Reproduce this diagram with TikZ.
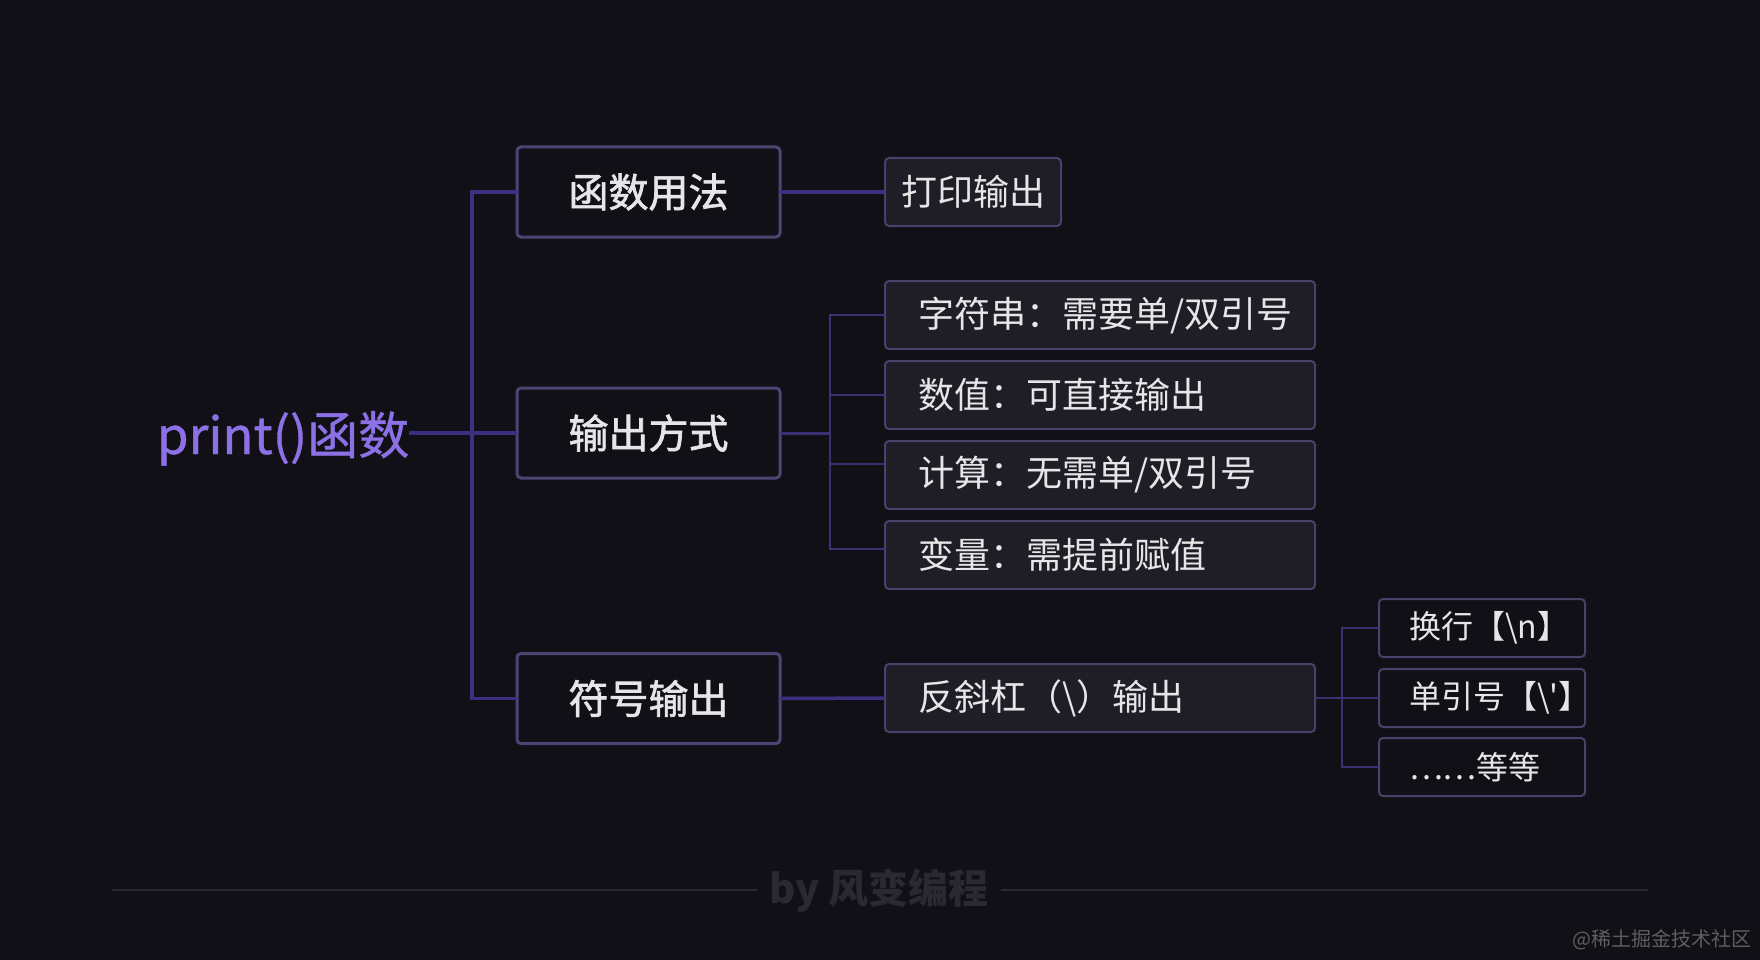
\documentclass[tikz,border=0pt]{standalone}
\usepackage{fontspec}
\setmainfont{Noto Sans CJK SC}
\newfontfamily\plaincjk{Noto Sans CJK SC}
\newfontfamily\medcjk[FakeBold=1.6]{Noto Sans CJK SC}
\newfontfamily\rootcjk[FakeBold=0.8]{Noto Sans CJK SC}
\definecolor{bg}{HTML}{111016}
\definecolor{txt}{HTML}{E6E6E8}
\definecolor{rootc}{HTML}{8C70E6}
\definecolor{borderA}{HTML}{4C4574}
\definecolor{borderB}{HTML}{48426B}
\definecolor{fillB}{HTML}{1F1E26}
\definecolor{lineA}{HTML}{3B3080}
\definecolor{lineB}{HTML}{3A3172}
\definecolor{botc}{HTML}{2A2930}
\definecolor{wmc}{HTML}{5D5D62}
\begin{document}
\begin{tikzpicture}[x=1pt,y=-1pt,
  rootnode/.style={anchor=base west, inner sep=0pt, outer sep=0pt, text=rootc, font=\fontsize{51}{60}\rootcjk},
  lvone/.style={draw=borderA, line width=3pt, fill=bg, rounded corners=4pt, minimum width=263pt, minimum height=90pt, inner sep=0pt, outer sep=0pt, text=txt, font=\fontsize{40}{46}\medcjk},
  lvtwo/.style={draw=borderB, line width=2pt, fill=fillB, rounded corners=4pt, minimum height=68pt, inner xsep=33pt, inner ysep=0pt, outer sep=0pt, text=txt, font=\fontsize{36}{42}\selectfont},
  lvthree/.style={draw=borderB, line width=2pt, fill=bg, rounded corners=4pt, minimum height=58pt, inner xsep=30pt, inner ysep=0pt, outer sep=0pt, text=txt, font=\fontsize{32}{38}\plaincjk},
  conn/.style={draw=lineA, line width=3.5pt},
  connmid/.style={draw=lineB, line width=3pt},
  connthin/.style={draw=lineB, line width=2pt},
  botline/.style={draw=botc, line width=2pt}]
\fill[bg] (0,0) rectangle (1760,960);
\useasboundingbox (0,0) rectangle (1760,960);

% root
\node[rootnode] (root) at (157,454) {print()函数};

% level one
\node[lvone] (b1) at (648.5,192) {函数用法};
\node[lvone] (b2) at (648.5,433) {输出方式};
\node[lvone] (b3) at (648.5,698.5) {符号输出};

% level two
\node[lvtwo, inner xsep=16pt, minimum width=176pt] (c1) at (973,192) {打印输出};
\node[lvtwo] (c2) at (1100,315) {\makebox[364pt][l]{字符串：需要单/双引号}};
\node[lvtwo] (c3) at (1100,395) {\makebox[364pt][l]{数值：可直接输出}};
\node[lvtwo] (c4) at (1100,475) {\makebox[364pt][l]{计算：无需单/双引号}};
\node[lvtwo] (c5) at (1100,555) {\makebox[364pt][l]{变量：需提前赋值}};
\node[lvtwo] (c6) at (1100,698) {\makebox[364pt][l]{反斜杠（\textbackslash）输出}};

% level three
\node[lvthree] (d1) at (1482,628) {\makebox[146pt][l]{换行【\textbackslash n】}};
\node[lvthree] (d2) at (1482,698) {\makebox[146pt][l]{单引号【\textbackslash '】}};
\node[lvthree] (d3) at (1482,767) {\makebox[146pt][l]{……等等}};

% connectors: root and level one
\draw[conn] (root.east |- b2.west) -- (b2.west);
\draw[conn] (b1.west) -- ++(-45,0) |- (b3.west);
\draw[conn] (b1.east) -- (c1.west);
\draw[conn] (b3.east) -- (c6.west);

% connectors: output ways
\coordinate (j2) at ([xshift=49.5pt]b2.east);
\coordinate (c4w) at ([yshift=11pt]c4.west);
\coordinate (c5w) at ([yshift=6pt]c5.west);
\draw[connmid] (b2.east) -- (j2);
\draw[connthin] (c2.west) -| (j2 |- c5w) -- (c5w);
\draw[connthin] (j2 |- c3.west) -- (c3.west);
\draw[connthin] (j2 |- c4w) -- (c4w);

% connectors: escape characters
\coordinate (j3) at ([xshift=27pt]c6.east);
\draw[connthin] (c6.east) -- (d2.west);
\draw[connthin] (d1.west) -| (j3 |- d3.west) -- (d3.west);

% footer
\node[inner xsep=12pt, inner ysep=0pt, text=botc, font=\fontsize{40}{46}\selectfont\bfseries] (by) at (879,891) {by 风变编程};
\draw[botline] (by.west |- 0,890) -- (112,890);
\draw[botline] (by.east |- 0,890) -- (1648,890);
\node[anchor=east, inner sep=0pt, text=wmc, font=\fontsize{20}{24}\selectfont] (wm) at (1752,940) {@稀土掘金技术社区};
\end{tikzpicture}
\end{document}
